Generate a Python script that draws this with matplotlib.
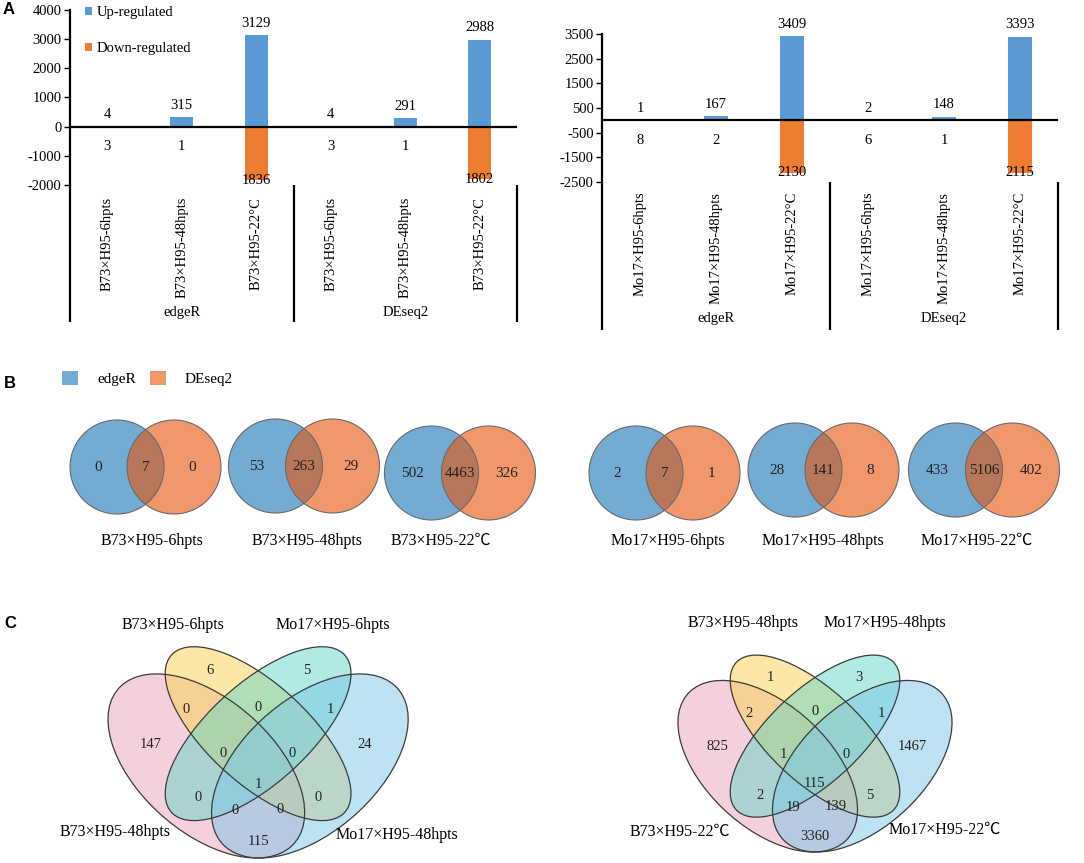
import numpy as np
import matplotlib
matplotlib.use("Agg")
import matplotlib.pyplot as plt
import matplotlib.transforms as mtrans
from matplotlib.patches import Circle, Ellipse, Patch

plt.rcParams['font.family'] = ['Liberation Serif', 'Noto Sans CJK SC']
plt.rcParams['axes.unicode_minus'] = False

# ---- data: panel A (DEG counts) ----
groups = ["edgeR", "DEseq2"]
b73_cats = ["B73×H95-6hpts", "B73×H95-48hpts", "B73×H95-22°C"] * 2
b73_up = [4, 315, 3129, 4, 291, 2988]
b73_down = [3, 1, 1836, 3, 1, 1802]
mo17_cats = ["Mo17×H95-6hpts", "Mo17×H95-48hpts", "Mo17×H95-22°C"] * 2
mo17_up = [1, 167, 3409, 2, 148, 3393]
mo17_down = [8, 2, 2130, 6, 1, 2115]

# ---- data: panel B (edgeR only, both, DEseq2 only) ----
b_names = ["B73×H95-6hpts", "B73×H95-48hpts", "B73×H95-22℃",
           "Mo17×H95-6hpts", "Mo17×H95-48hpts", "Mo17×H95-22℃"]
b_edger_only = [0, 53, 502, 2, 28, 433]
b_both = [7, 263, 4463, 7, 141, 5106]
b_deseq_only = [0, 29, 326, 1, 8, 402]

# ---- data: panel C (4-set venn, sets: pink, yellow, teal, blue) ----
c1_sets = ["B73×H95-48hpts", "B73×H95-6hpts", "Mo17×H95-6hpts", "Mo17×H95-48hpts"]
c1_counts = {"A": 147, "B": 6, "C": 5, "D": 24, "AB": 0, "BC": 0, "CD": 1,
             "ABC": 0, "BCD": 0, "ABCD": 1, "AC": 0, "BD": 0,
             "ACD": 0, "ABD": 0, "AD": 115}
c2_sets = ["B73×H95-22℃", "B73×H95-48hpts", "Mo17×H95-48hpts", "Mo17×H95-22℃"]
c2_counts = {"A": 825, "B": 1, "C": 3, "D": 1467, "AB": 2, "BC": 0, "CD": 1,
             "ABC": 1, "BCD": 0, "ABCD": 115, "AC": 2, "BD": 5,
             "ACD": 19, "ABD": 139, "AD": 3360}

UP_C, DOWN_C = "#5b9bd5", "#ed7d31"
EDGER_C, DESEQ_C = "#1773b7", "#e6530a"
C_COLS = ["#eba1bb", "#fbd151", "#65d7c7", "#7bc7e9"]

W, H = 1084, 863
fig = plt.figure(figsize=(W / 100, H / 100), dpi=100)


def px_axes(x0, y0, x1, y1):
    return fig.add_axes([x0 / W, 1 - y1 / H, (x1 - x0) / W, (y1 - y0) / H])


def bar_panel(box, cats, up, down, ylim, yticks, line_bottom, label_pad, group_y):
    ax = px_axes(*box)
    x = np.arange(len(cats))
    bu = ax.bar(x, up, width=0.31, color=UP_C)
    bd = ax.bar(x, [-d for d in down], width=0.31, color=DOWN_C)
    ax.set_xlim(-0.5, len(cats) - 0.5)
    ax.set_ylim(*ylim)
    ax.set_yticks(yticks)
    ax.axhline(0, color="k", lw=1.6)
    for s in ["top", "right", "bottom"]:
        ax.spines[s].set_visible(False)
    ax.spines["left"].set_linewidth(1.6)
    ax.tick_params(axis="y", direction="out", length=4, width=1, labelsize=10.5, pad=2)
    ax.set_xticks(x)
    ax.set_xticklabels(cats, rotation=90, fontsize=10.5)
    ax.tick_params(axis="x", length=0, pad=label_pad)
    for xi, v in zip(x, up):
        ax.annotate(str(v), (xi, v), xytext=(0, 4), textcoords="offset points",
                    ha="center", va="bottom", fontsize=10.5, annotation_clip=False)
    for xi, v in zip(x, down):
        if v > 500:
            ax.annotate(str(v), (xi, -v), ha="center", va="center", fontsize=10.5,
                        annotation_clip=False)
        else:
            ax.annotate(str(v), (xi, 0), xytext=(0, -14.5), textcoords="offset points",
                        ha="center", va="center", fontsize=10.5)
    tr = mtrans.blended_transform_factory(ax.transData, ax.transAxes)
    for xs in [-0.5, 2.5, 5.5]:
        ax.plot([xs, xs], [0, line_bottom], transform=tr, color="k", lw=1.6,
                clip_on=False, solid_capstyle="butt")
    for gi, g in enumerate(groups):
        ax.text(gi * 3 + 1, group_y, g, transform=tr, ha="center", va="center", fontsize=10.5)
    return ax, bu, bd


# ---- panel A ----
axl, bu, bd = bar_panel((70, 10, 517, 185), b73_cats, b73_up, b73_down,
                        (-2000, 4000), range(-2000, 4001, 1000), -0.783, 8.5, -0.726)
axl.legend([bu, bd], ["Up-regulated", "Down-regulated"], loc="upper left",
           bbox_to_anchor=(0.034, 1.02), frameon=False, fontsize=10.5,
           handlelength=0.5, handleheight=0.5, handletextpad=0.3,
           labelspacing=1.55, borderpad=0, borderaxespad=0)
bar_panel((602, 34, 1058, 182), mo17_cats, mo17_up, mo17_down,
          (-2500, 3500), range(-2500, 3501, 1000), -1.0, 7.0, -0.919)

# ---- panel B ----
fig.legend([Patch(fc=EDGER_C, alpha=0.6, ec="none"), Patch(fc=DESEQ_C, alpha=0.6, ec="none")],
           ["edgeR", "DEseq2"], loc="upper left", bbox_to_anchor=(62 / W, 1 - 371 / H),
           ncol=2, frameon=False, fontsize=11, handlelength=1.05, handleheight=1.0,
           handletextpad=1.25, columnspacing=0.9, borderpad=0, borderaxespad=0)

axb = px_axes(0, 380, W, 560)
axb.set_xlim(0, W)
axb.set_ylim(560, 380)
axb.axis("off")
venn_cx = [145.5, 304, 460, 664.5, 823.5, 984]
venn_cy = [467, 466, 473, 473, 470, 470]
name_x = [152, 307, 441, 668, 823, 977]
r, d = 47, 57
for cx, cy, nx, nm, a, ab, b in zip(venn_cx, venn_cy, name_x, b_names,
                                    b_edger_only, b_both, b_deseq_only):
    axb.add_patch(Circle((cx - d / 2, cy), r, fc=EDGER_C, alpha=0.6, ec="none"))
    axb.add_patch(Circle((cx + d / 2, cy), r, fc=DESEQ_C, alpha=0.6, ec="none"))
    for sx in (-d / 2, d / 2):
        axb.add_patch(Circle((cx + sx, cy), r, fill=False, ec="#6a6a6a", lw=0.8))
    for off, val in zip((-47, 0, 47), (a, ab, b)):
        axb.text(cx + off, cy, str(val), ha="center", va="center", fontsize=11, color="#222222")
    axb.text(nx, 541, nm, ha="center", va="center", fontsize=11.5)

# ---- panel C ----
ELLIPSES = [(0.35, 0.47, 0.35, 0.20, 135), (0.50, 0.57, 0.35, 0.15, 135),
            (0.50, 0.57, 0.35, 0.15, 45), (0.65, 0.47, 0.35, 0.20, 45)]
REGION_POS = {"B": (0.36, 0.765), "C": (0.64, 0.765), "AB": (0.29, 0.646),
              "BC": (0.50, 0.652), "CD": (0.71, 0.646), "A": (0.19, 0.535),
              "ABC": (0.40, 0.51), "BCD": (0.60, 0.51), "D": (0.81, 0.535),
              "ABCD": (0.50, 0.414), "AC": (0.325, 0.373), "BD": (0.675, 0.373),
              "ACD": (0.432, 0.332), "ABD": (0.565, 0.335), "AD": (0.50, 0.237)}


def quad_venn(box, ylo, sets, counts, set_pos):
    ax = px_axes(*box)
    ax.set_xlim(0, 1)
    ax.set_ylim(ylo, 1)
    ax.axis("off")
    for (cx, cy, a, b, ang), col in zip(ELLIPSES, C_COLS):
        ax.add_patch(Ellipse((cx, cy), 2 * a, 2 * b, angle=ang, fc=col, alpha=0.5, ec="none"))
    for (cx, cy, a, b, ang) in ELLIPSES:
        ax.add_patch(Ellipse((cx, cy), 2 * a, 2 * b, angle=ang, fill=False, ec="#3c3c3c", lw=0.9))
    for k, v in counts.items():
        ax.text(*REGION_POS[k], str(v), ha="center", va="center", fontsize=10.5, color="#222222")
    for nm, (sx, sy) in zip(sets, set_pos):
        ax.text(sx, sy, nm, ha="center", va="center", fontsize=11.5)


quad_venn((85.6, 594.8, 430.6, 863), 0.1695, c1_sets, c1_counts,
          [(0.085, 0.265), (0.253, 0.906), (0.717, 0.906), (0.903, 0.256)])
quad_venn((657.5, 606.7, 972.5, 863), 0.1485, c2_sets, c2_counts,
          [(0.071, 0.251), (0.271, 0.946), (0.722, 0.946), (0.913, 0.258)])

for lab, (x, y) in zip("ABC", [(9, 10), (10, 383), (10, 623)]):
    fig.text(x / W, 1 - y / H, lab, family="Liberation Sans", weight="bold",
             fontsize=12, ha="center", va="center")

fig.savefig("out.png", dpi=100)
